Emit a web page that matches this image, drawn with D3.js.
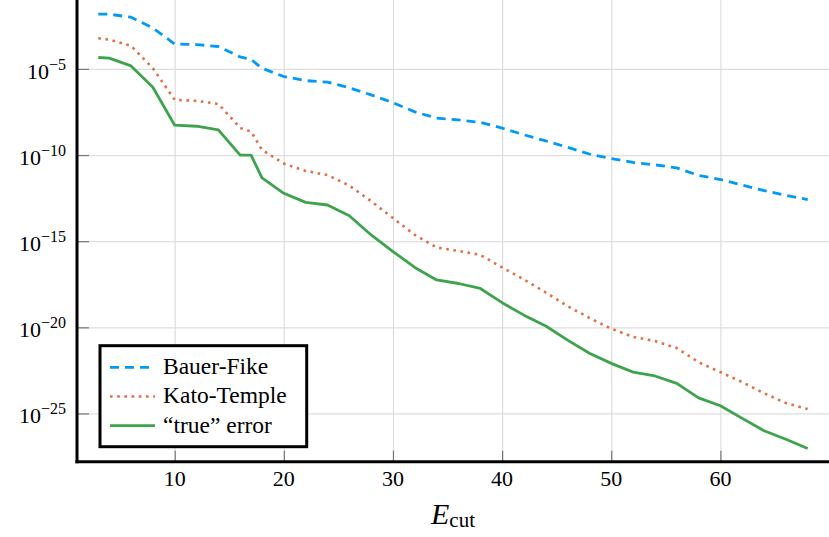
<!DOCTYPE html>
<html>
<head>
<meta charset="utf-8">
<script src="https://cdn.jsdelivr.net/npm/d3@7"></script>
<style>
  body { margin: 0; background: #fff; }
</style>
</head>
<body>
<div id="chart"></div>
<script>
// cutoff energies
const ecut = [3, 4, 6, 8, 10, 12, 14, 16, 17, 18, 20, 22, 24, 26, 28, 30, 32, 34, 36, 38,
              40, 42, 44, 46, 48, 50, 52, 54, 56, 58, 60, 62, 64, 66, 68];

// error bounds
const bauerFike = [1.5e-2, 1.5e-2, 1.0e-2, 2.4e-3, 2.8e-4, 2.6e-4, 2.0e-4, 5.0e-5, 3.5e-5, 1.1e-5,
                   3.6e-6, 2.1e-6, 1.7e-6, 8.0e-7, 3.1e-7, 1.1e-7, 3.2e-8, 1.4e-8, 1.1e-8, 7.9e-9,
                   3.7e-9, 1.5e-9, 6.6e-10, 2.8e-10, 1.15e-10, 6.3e-11, 3.7e-11, 2.7e-11, 1.8e-11, 6.6e-12,
                   3.8e-12, 1.8e-12, 8.7e-13, 4.5e-13, 2.6e-13];
const katoTemple = [6.0e-4, 5.0e-4, 2.2e-4, 1.1e-5, 1.6e-7, 1.4e-7, 9.3e-8, 3.7e-9, 2.3e-9, 2.0e-10,
                    3.2e-11, 1.2e-11, 6.9e-12, 1.7e-12, 2.1e-13, 2.2e-14, 2.3e-15, 4.3e-16, 2.7e-16, 1.6e-16,
                    3.0e-17, 6.0e-18, 1.05e-18, 1.7e-19, 3.5e-20, 8.3e-21, 2.8e-21, 1.6e-21, 6.3e-22, 9.5e-23,
                    2.5e-23, 6.6e-24, 1.5e-24, 4.0e-25, 1.8e-25];
const trueError = [4.6e-5, 4.2e-5, 1.5e-5, 8.7e-7, 5.4e-9, 4.7e-9, 2.9e-9, 1.0e-10, 9.8e-11, 4.7e-12,
                   6.0e-13, 1.8e-13, 1.26e-13, 3.0e-14, 2.3e-15, 2.5e-16, 3.0e-17, 5.6e-18, 3.5e-18, 1.8e-18,
                   2.7e-19, 5.1e-20, 1.2e-20, 1.8e-21, 3.1e-22, 8.1e-23, 2.5e-23, 1.5e-23, 5.6e-24, 8.1e-25,
                   2.8e-25, 5.2e-26, 1.0e-26, 3.2e-27, 9.3e-28];

const seriesNames = ["Bauer-Fike", "Kato-Temple", "\u201Ctrue\u201D error"];
const xTicks = [10, 20, 30, 40, 50, 60];
const yTickExps = [-5, -10, -15, -20, -25];

const width = 829, height = 537;
const left = 77, bottom = 461.7;
const serif = "'Liberation Serif', serif";

const svg = d3.select("#chart").append("svg")
    .attr("width", width)
    .attr("height", height)
    .attr("font-family", serif);

const x = d3.scaleLinear().domain([1.05, 69.95]).range([left, width]);
const y = d3.scaleLog().domain([Math.pow(10, -27.8), Math.pow(10, -1)]).range([bottom, 0]);

// grid
svg.append("g")
    .attr("transform", `translate(0,${bottom})`)
    .call(d3.axisBottom(x).tickValues(xTicks).tickSize(-bottom).tickFormat(""))
    .call(g => g.select(".domain").remove())
    .call(g => g.selectAll("line").attr("stroke", "#dedede").attr("stroke-width", 1.2));

svg.append("g")
    .attr("transform", `translate(${left},0)`)
    .call(d3.axisLeft(y).tickValues(yTickExps.map(e => Math.pow(10, e))).tickSize(-(width - left)).tickFormat(""))
    .call(g => g.select(".domain").remove())
    .call(g => g.selectAll("line").attr("stroke", "#dedede").attr("stroke-width", 1.2));

// short tick marks inside the frame
svg.append("g")
    .attr("transform", `translate(0,${bottom})`)
    .call(d3.axisBottom(x).tickValues(xTicks).tickSize(-11).tickFormat(""))
    .call(g => g.select(".domain").remove())
    .call(g => g.selectAll("line").attr("stroke", "#777").attr("stroke-width", 1.2));

svg.append("g")
    .attr("transform", `translate(${left},0)`)
    .call(d3.axisLeft(y).tickValues(yTickExps.map(e => Math.pow(10, e))).tickSize(-12).tickFormat(""))
    .call(g => g.select(".domain").remove())
    .call(g => g.selectAll("line").attr("stroke", "#777").attr("stroke-width", 1.2));

// series lines
const line = d3.line().x((d, i) => x(ecut[i])).y(d => y(d));
const styles = [
  { data: bauerFike, color: "#009af9", dash: "9,6", w: 2.8 },
  { data: katoTemple, color: "#e26f46", dash: "2.6,4.6", w: 2.6 },
  { data: trueError, color: "#3da44d", dash: null, w: 2.8 }
];

styles.forEach(s => {
  svg.append("path")
      .datum(s.data)
      .attr("d", line)
      .attr("fill", "none")
      .attr("stroke", s.color)
      .attr("stroke-width", s.w)
      .attr("stroke-dasharray", s.dash)
      .attr("stroke-linejoin", "round");
});

// frame (left and bottom spines)
svg.append("line").attr("x1", left).attr("x2", left).attr("y1", 0).attr("y2", bottom + 1.5)
    .attr("stroke", "#000").attr("stroke-width", 3);
svg.append("line").attr("x1", left - 1.5).attr("x2", width).attr("y1", bottom).attr("y2", bottom)
    .attr("stroke", "#000").attr("stroke-width", 3);

// tick labels
svg.append("g").selectAll("text")
  .data(xTicks)
  .join("text")
    .attr("x", d => x(d))
    .attr("y", 486)
    .attr("text-anchor", "middle")
    .attr("font-size", 22)
    .text(d => d);

const yl = svg.append("g").selectAll("text")
  .data(yTickExps)
  .join("text")
    .attr("x", 66)
    .attr("y", d => y(Math.pow(10, d)) + 10)
    .attr("text-anchor", "end")
    .attr("font-size", 22);
yl.append("tspan").text("10");
yl.append("tspan")
    .attr("dy", -9)
    .attr("font-size", 16)
    .text(d => "\u2212" + Math.abs(d));

// axis title
const xt = svg.append("text")
    .attr("x", (left + width) / 2)
    .attr("y", 524)
    .attr("text-anchor", "middle")
    .attr("font-size", 30);
xt.append("tspan").attr("font-style", "italic").text("E");
xt.append("tspan").attr("font-size", 21).attr("dy", 3).text("cut");

// legend
const lg = svg.append("g").attr("transform", "translate(100,345.7)");
lg.append("rect")
    .attr("width", 206.7).attr("height", 101)
    .attr("fill", "#fff").attr("stroke", "#000").attr("stroke-width", 3);
styles.forEach((s, i) => {
  const yy = 21.6 + i * 29.2;
  lg.append("line")
      .attr("x1", 10).attr("x2", 55).attr("y1", yy).attr("y2", yy)
      .attr("stroke", s.color).attr("stroke-width", s.w)
      .attr("stroke-dasharray", s.dash);
  lg.append("text")
      .attr("x", 63).attr("y", yy + 7)
      .attr("font-size", 23.5)
      .text(seriesNames[i]);
});
</script>
</body>
</html>
